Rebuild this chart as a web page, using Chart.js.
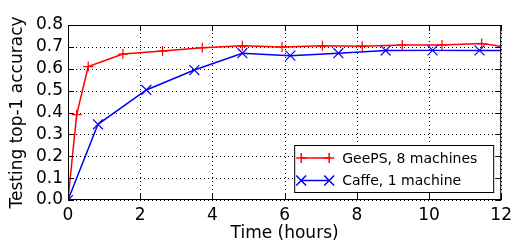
<!DOCTYPE html>
<html>
<head>
<meta charset="utf-8">
<script src="https://cdn.jsdelivr.net/npm/chart.js@4"></script>
<style>
  html, body { margin: 0; padding: 0; background: #fff; }
  #wrap { width: 517px; height: 243px; }
</style>
</head>
<body>
<div id="wrap"><canvas id="accChart" width="517" height="243"></canvas></div>
<script>
// values
const geepsHours = [0, 0.24, 0.56, 1.52, 2.62, 3.72, 4.83, 5.93, 7.05, 8.15, 9.26, 10.36, 11.46, 12.56];
const geepsAcc   = [0, 0.39, 0.61, 0.667, 0.681, 0.696, 0.705, 0.70, 0.705, 0.703, 0.709, 0.709, 0.715, 0.69];
const caffeHours = [0, 0.83, 2.17, 3.5, 4.83, 6.16, 7.49, 8.8, 10.1, 11.4, 12.7];
const caffeAcc   = [0, 0.346, 0.503, 0.594, 0.671, 0.66, 0.671, 0.683, 0.684, 0.684, 0.683];
const xTicks = [0, 2, 4, 6, 8, 10, 12];
const yTicks = [0, 0.1, 0.2, 0.3, 0.4, 0.5, 0.6, 0.7, 0.8];
const seriesNames = ["GeePS, 8 machines", "Caffe, 1 machine"];

const RED = "#ff0000";
const BLUE = "#0000ff";
const FONT = "'DejaVu Sans', sans-serif";

function toPoints(xs, ys) {
    return xs.map((x, i) => ({ x: x, y: ys[i] }));
}

// dotted grid under the lines, placed by the scales
const gridPlugin = {
    id: "dotGrid",
    beforeDatasetsDraw(chart) {
        const { ctx, chartArea: a, scales } = chart;
        ctx.save();
        ctx.strokeStyle = "#000";
        ctx.lineWidth = 1;
        ctx.setLineDash([1, 3]);
        ctx.beginPath();
        xTicks.forEach(v => {
            const px = Math.round(scales.x.getPixelForValue(v)) + 0.5;
            ctx.moveTo(px, a.top); ctx.lineTo(px, a.bottom);
        });
        yTicks.forEach(v => {
            const py = Math.round(scales.y.getPixelForValue(v)) + 0.5;
            ctx.moveTo(a.left, py); ctx.lineTo(a.right, py);
        });
        ctx.stroke();
        ctx.restore();
    }
};

// frame + inward ticks on all four sides, matplotlib style
const framePlugin = {
    id: "frame",
    afterDraw(chart) {
        const { ctx, chartArea: a, scales } = chart;
        const len = 6;
        ctx.save();
        ctx.strokeStyle = "#000";
        ctx.lineWidth = 1;
        ctx.strokeRect(a.left + 0.5, a.top + 0.5, a.right - a.left - 1, a.bottom - a.top - 1);
        ctx.beginPath();
        xTicks.forEach(v => {
            const px = Math.round(scales.x.getPixelForValue(v)) + 0.5;
            ctx.moveTo(px, a.bottom); ctx.lineTo(px, a.bottom - len);
            ctx.moveTo(px, a.top); ctx.lineTo(px, a.top + len);
        });
        yTicks.forEach(v => {
            const py = Math.round(scales.y.getPixelForValue(v)) + 0.5;
            ctx.moveTo(a.left, py); ctx.lineTo(a.left + len, py);
            ctx.moveTo(a.right, py); ctx.lineTo(a.right - len, py);
        });
        ctx.stroke();
        ctx.restore();
    }
};

// legend box in the lower right of the plot
const legendPlugin = {
    id: "boxLegend",
    afterDraw(chart) {
        const ctx = chart.ctx;
        const a = chart.chartArea;
        const bx = a.right - 207, by = a.bottom - 55, bw = 199, bh = 47;
        ctx.save();
        ctx.fillStyle = "#fff";
        ctx.fillRect(bx, by, bw, bh);
        ctx.strokeStyle = "#000";
        ctx.lineWidth = 1;
        ctx.strokeRect(bx + 0.5, by + 0.5, bw, bh);
        chart.data.datasets.forEach((ds, i) => {
            const y = by + 13 + i * 22.5;
            const x0 = bx + 7, x1 = bx + 35;
            ctx.strokeStyle = ds.borderColor;
            ctx.lineWidth = 1.5;
            ctx.beginPath();
            ctx.moveTo(x0, y); ctx.lineTo(x1, y);
            ctx.stroke();
            [x0, x1].forEach(x => {
                Chart.helpers.drawPoint(ctx, {
                    pointStyle: ds.pointStyle, radius: ds.pointRadius,
                    borderWidth: 1.2, rotation: 0
                }, x, y);
            });
            ctx.fillStyle = "#000";
            ctx.font = "14px " + FONT;
            ctx.textBaseline = "middle";
            ctx.textAlign = "left";
            ctx.fillText(seriesNames[i], bx + 48, y + 1);
        });
        ctx.restore();
    }
};

new Chart(document.getElementById("accChart"), {
    type: "line",
    data: {
        datasets: [
            {
                label: seriesNames[0],
                data: toPoints(geepsHours, geepsAcc),
                borderColor: RED,
                backgroundColor: RED,
                borderWidth: 1.5,
                pointStyle: "cross",
                pointRadius: 5,
                pointBorderWidth: 1.2,
                tension: 0
            },
            {
                label: seriesNames[1],
                data: toPoints(caffeHours, caffeAcc),
                borderColor: BLUE,
                backgroundColor: BLUE,
                borderWidth: 1.5,
                pointStyle: "crossRot",
                pointRadius: 7,
                pointBorderWidth: 1.2,
                tension: 0
            }
        ]
    },
    options: {
        responsive: false,
        animation: false,
        devicePixelRatio: 1,
        layout: { padding: { left: 0, top: 25, right: 13, bottom: 0 } },
        plugins: { legend: { display: false }, tooltip: { enabled: false } },
        scales: {
            x: {
                type: "linear",
                min: 0, max: 12,
                afterBuildTicks: s => { s.ticks = xTicks.map(v => ({ value: v })); },
                afterFit: s => { s.height = 43; },
                ticks: {
                    color: "#000", font: { size: 17, family: FONT }, padding: 5,
                    maxRotation: 0, autoSkip: false
                },
                grid: { display: false, drawTicks: false },
                border: { display: false },
                title: {
                    display: true, text: "Time (hours)", color: "#000",
                    font: { size: 17, family: FONT, lineHeight: 1.1 }, padding: { top: 0, bottom: 0 }
                }
            },
            y: {
                min: 0, max: 0.8,
                afterBuildTicks: s => { s.ticks = yTicks.map(v => ({ value: v })); },
                afterFit: s => { s.width = 68; },
                ticks: {
                    color: "#000", font: { size: 17, family: FONT }, padding: 5,
                    autoSkip: false,
                    callback: v => Number(v).toFixed(1)
                },
                grid: { display: false, drawTicks: false },
                border: { display: false },
                title: {
                    display: true, text: "Testing top-1 accuracy", color: "#000",
                    font: { size: 17, family: FONT }, padding: { top: 7, bottom: 0 }
                }
            }
        }
    },
    plugins: [gridPlugin, framePlugin, legendPlugin]
});
</script>
</body>
</html>
